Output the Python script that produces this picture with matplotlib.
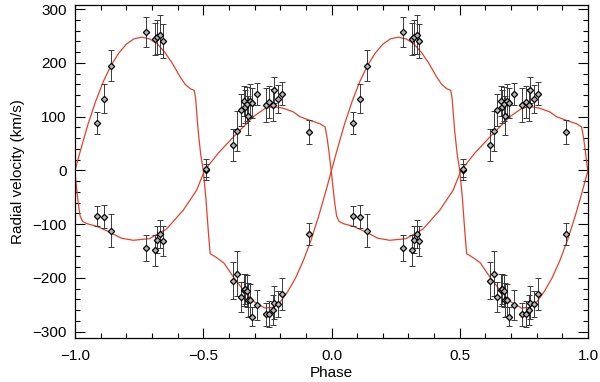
import numpy as np
import matplotlib
matplotlib.use('Agg')
import matplotlib.pyplot as plt
from matplotlib.ticker import MultipleLocator

# Observed epochs, phase in [0, 1); shown twice (phase-1 and phase)
phase_obs = [0.085, 0.112, 0.140, 0.277, 0.313, 0.321, 0.333, 0.343,
             0.511,
             0.617, 0.632, 0.646, 0.660, 0.664, 0.672, 0.676, 0.684,
             0.691, 0.711, 0.743, 0.758, 0.771, 0.775, 0.791, 0.807,
             0.913]
rv_a = [88, 133, 195, 258, 244, 248, 253, 241,
        0,
        -205, -192, -235, -222, -220, -225, -241, -241,
        -272, -250, -268, -267, -259, -246, -248, -230,
        -118]
err_a = [20, 27, 29, 28, 30, 32, 36, 32,
         12,
         35, 42, 28, 30, 28, 30, 32, 30,
         18, 28, 22, 24, 28, 30, 24, 30,
         20]
rv_b = [-85, -86, -112, -144, -149, -129, -118, -132,
        2,
        48, 73, 112, 130, 119, 124, 102, 130,
        125, 142, 122, 128, 122, 149, 133, 143,
        71]
err_b = [18, 22, 31, 24, 28, 25, 26, 28,
         20,
         30, 37, 30, 28, 30, 32, 36, 30,
         28, 21, 32, 30, 30, 24, 26, 22,
         22]

# Model curves, one cycle
phase_a = [0.00, 0.02, 0.05, 0.08, 0.11, 0.14, 0.17, 0.20, 0.23, 0.26,
           0.29, 0.32, 0.35, 0.38, 0.41, 0.43, 0.45, 0.465, 0.47, 0.48,
           0.49, 0.50, 0.51, 0.52, 0.527, 0.545, 0.58, 0.62, 0.66, 0.70,
           0.74, 0.77, 0.80, 0.83, 0.86, 0.89, 0.92, 0.95, 0.98, 1.00]
model_a = [0, 35, 85, 128, 165, 195, 218, 235, 245, 248,
           245, 236, 220, 199, 174, 160, 152, 149, 135, 75,
           30, 0, -50, -115, -155, -160, -172, -200, -225, -245,
           -256, -255, -245, -225, -200, -168, -130, -85, -35, 0]
phase_b = [0.000, 0.007, 0.013, 0.020, 0.030, 0.046, 0.085, 0.136, 0.18,
           0.227, 0.29, 0.357, 0.422, 0.474, 0.505, 0.56, 0.617, 0.695,
           0.74, 0.773, 0.81, 0.851, 0.877, 0.917, 0.955, 0.975, 0.983,
           0.99, 1.000]
model_b = [-5, -37, -62, -85, -95, -99, -104, -115, -126,
           -130, -127, -109, -74, -37, 0, 33, 62, 100,
           115, 119, 116, 109, 100, 93, 87, 81, 60,
           35, -5]

plt.rcParams['font.family'] = ['Liberation Sans', 'DejaVu Sans']

fig = plt.figure(figsize=(6, 3.82), dpi=100)
ax = fig.add_axes([0.125, 0.115, 0.855, 0.872])

line_col = '#e4412a'
for pa, ma in [(phase_a, model_a), (phase_b, model_b)]:
    pa = np.array(pa)
    ma = np.array(ma)
    xs = np.concatenate([pa[:-1] - 1, pa])
    ys = np.concatenate([ma[:-1], ma])
    ax.plot(xs, ys, color=line_col, lw=0.9, zorder=2)

ph = np.array(phase_obs)
for shift in (-1, 0):
    for rv, er in [(rv_a, err_a), (rv_b, err_b)]:
        ax.errorbar(ph + shift, rv, yerr=er, fmt='none', ecolor='#3a3a3a',
                    elinewidth=0.7, capsize=2.5, capthick=0.7, zorder=3)
        ax.plot(ph + shift, rv, 'D', ms=3.2, mfc='#b8b8b8', mec='black',
                mew=0.9, zorder=4)

ax.set_xlim(-1, 1)
ax.set_ylim(-312, 308)
ax.xaxis.set_major_locator(MultipleLocator(0.5))
ax.xaxis.set_minor_locator(MultipleLocator(0.1))
ax.yaxis.set_major_locator(MultipleLocator(100))
ax.yaxis.set_minor_locator(MultipleLocator(20))
ax.xaxis.set_major_formatter(plt.FuncFormatter(lambda v, p: f'{v:.1f}'.replace('-', '\u2212')))
ax.tick_params(which='both', direction='in', top=True, right=True,
               labelsize=11, width=0.8)
ax.tick_params(which='major', length=7)
ax.tick_params(which='major', axis='x', pad=8)
ax.tick_params(which='major', axis='y', pad=6)
ax.tick_params(which='minor', length=3.5)
for s in ax.spines.values():
    s.set_linewidth(0.9)

ax.set_xlabel('Phase', fontsize=11, labelpad=2)
ax.set_ylabel('Radial velocity (km/s)', fontsize=11, labelpad=5)

fig.savefig('out.png', dpi=100)
